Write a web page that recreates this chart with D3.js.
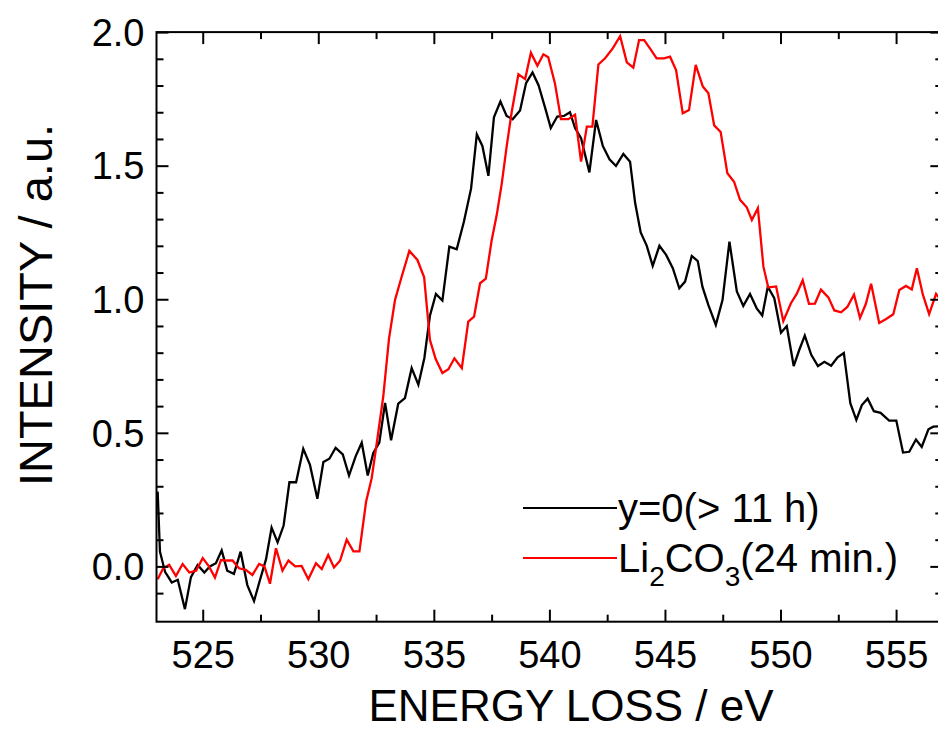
<!DOCTYPE html>
<html>
<head>
<meta charset="utf-8">
<script src="https://cdn.jsdelivr.net/npm/d3@7"></script>
<style>
  html, body { margin: 0; padding: 0; background: #fff; }
  svg { display: block; }
  text { font-family: "Liberation Sans", Arial, Helvetica, sans-serif; fill: #000; }
</style>
</head>
<body>
<svg id="chart" width="938" height="730"></svg>
<script>
// ---------------- data ----------------
const blackEnergy = [523.05,523.15,523.37,523.66,523.92,524.23,524.49,524.78,525.07,525.31,525.57,525.82,526.06,526.35,526.64,526.93,527.22,527.48,527.74,527.98,528.24,528.5,528.75,529.04,529.35,529.64,529.96,530.22,530.48,530.75,531.06,531.33,531.62,531.88,532.14,532.38,532.64,532.89,533.15,533.46,533.75,534.04,534.33,534.59,534.83,535.09,535.37,535.67,535.99,536.3,536.61,536.86,537.1,537.36,537.6,537.88,538.15,538.41,538.73,538.99,539.27,539.53,539.81,540.06,540.34,540.63,540.89,541.11,541.37,541.73,542.02,542.31,542.6,542.88,543.2,543.49,543.71,543.95,544.21,544.47,544.76,545.05,545.34,545.62,545.87,546.16,546.42,546.62,546.88,547.2,547.49,547.79,548.11,548.39,548.68,548.97,549.21,549.45,549.73,550.02,550.27,550.57,550.81,551.05,551.33,551.62,551.9,552.19,552.47,552.74,553.02,553.28,553.52,553.77,554.04,554.33,554.7,555.01,555.3,555.57,555.86,556.11,556.4,556.61,556.9];
const blackIntensity = [0.28,0.055,-0.02,-0.06,-0.05,-0.16,-0.04,0.005,-0.023,0.0,0.012,0.06,-0.016,-0.028,0.055,-0.07,-0.13,-0.05,0.027,0.145,0.09,0.153,0.315,0.315,0.44,0.38,0.253,0.391,0.403,0.444,0.419,0.34,0.413,0.463,0.34,0.425,0.463,0.612,0.472,0.609,0.63,0.742,0.68,0.78,0.938,1.02,0.995,1.197,1.187,1.29,1.414,1.617,1.574,1.462,1.681,1.74,1.686,1.674,1.707,1.809,1.849,1.801,1.718,1.641,1.684,1.686,1.7,1.641,1.603,1.475,1.671,1.574,1.524,1.499,1.544,1.515,1.36,1.25,1.201,1.125,1.2,1.166,1.116,1.041,1.066,1.162,1.143,1.047,0.978,0.904,0.997,1.216,1.029,0.975,1.02,0.966,0.939,1.047,1.004,0.875,0.9,0.75,0.81,0.864,0.792,0.75,0.766,0.751,0.783,0.799,0.611,0.548,0.604,0.628,0.581,0.575,0.546,0.546,0.426,0.429,0.475,0.447,0.513,0.523,0.525];

const redEnergy = [523.05,523.29,523.55,523.84,524.13,524.42,524.71,525.0,525.27,525.53,525.79,526.03,526.29,526.57,526.86,527.15,527.44,527.67,527.91,528.17,528.45,528.71,529.0,529.28,529.57,529.9,530.15,530.43,530.68,530.94,531.23,531.52,531.78,532.07,532.31,532.55,532.81,533.06,533.32,533.61,533.94,534.29,534.58,534.83,535.08,535.37,535.63,535.89,536.21,536.49,536.74,537.0,537.25,537.5,537.72,537.94,538.15,538.37,538.66,538.95,539.2,539.48,539.74,539.95,540.24,540.5,540.82,541.11,541.37,541.62,541.86,542.12,542.41,542.74,543.06,543.35,543.63,543.88,544.1,544.35,544.64,544.96,545.22,545.48,545.77,546.04,546.33,546.64,546.88,547.13,547.41,547.7,547.99,548.25,548.54,548.76,549.02,549.26,549.47,549.81,550.12,550.45,550.7,550.96,551.23,551.49,551.75,552.07,552.33,552.62,552.89,553.18,553.44,553.69,553.92,554.27,554.57,554.88,555.14,555.43,555.68,555.9,556.16,556.43,556.73,557.0];
const redIntensity = [-0.048,-0.007,0.006,-0.036,0.009,-0.023,-0.016,0.031,0.0,-0.042,0.024,0.022,0.022,-0.007,-0.013,-0.032,0.009,0.0,-0.065,0.068,-0.016,0.022,0.0,0.002,-0.048,0.012,-0.01,0.043,-0.004,0.021,0.1,0.056,0.056,0.243,0.33,0.473,0.635,0.853,0.997,1.085,1.181,1.147,1.082,0.848,0.776,0.724,0.738,0.779,0.742,0.916,0.935,1.06,1.077,1.22,1.315,1.434,1.571,1.702,1.842,1.824,1.923,1.874,1.917,1.906,1.808,1.674,1.674,1.691,1.515,1.646,1.646,1.879,1.902,1.939,1.985,1.887,1.867,1.97,1.97,1.939,1.902,1.902,1.908,1.858,1.696,1.708,1.877,1.796,1.771,1.651,1.626,1.472,1.44,1.372,1.344,1.297,1.341,1.122,1.044,1.048,0.918,0.985,1.02,1.071,0.983,0.984,1.036,1.007,0.958,0.951,0.971,1.017,0.93,0.982,1.058,0.911,0.926,0.944,1.035,1.05,1.037,1.116,1.017,0.944,1.02,0.99];

const xMajorTicks = [525, 530, 535, 540, 545, 550, 555];
const xMinorTicks = [527.5, 532.5, 537.5, 542.5, 547.5, 552.5];
const yMajorTicks = [0.0, 0.5, 1.0, 1.5, 2.0];
const yMinorTicks = [-0.1, 0.1, 0.2, 0.3, 0.4, 0.6, 0.7, 0.8, 0.9, 1.1, 1.2, 1.3, 1.4, 1.6, 1.7, 1.8, 1.9];

const seriesNames = ["y=0(> 11 h)", "Li2CO3(24 min.)"];
const seriesColors = ["#000000", "#ff0000"];
const xDomain = [523, 557];
const yDomain = [-0.207, 2.0];
const xTitle = "ENERGY LOSS / eV";
const yTitle = "INTENSITY / a.u.";

// ---------------- layout ----------------
const L = 156.5, R = 942.3, T = 32.1, B = 621.7;
const svg = d3.select("#chart");

const x = d3.scaleLinear().domain(xDomain).range([L, R]);
const y = d3.scaleLinear().domain(yDomain).range([B, T]);

svg.append("defs").append("clipPath").attr("id", "plotclip")
  .append("rect").attr("x", L).attr("y", T).attr("width", R - L).attr("height", B - T);

// data lines
const series = [
  { e: blackEnergy, v: blackIntensity, color: seriesColors[0] },
  { e: redEnergy, v: redIntensity, color: seriesColors[1] }
];
const line = d3.line().x(d => x(d[0])).y(d => y(d[1]));
const gData = svg.append("g").attr("clip-path", "url(#plotclip)");
series.forEach(s => {
  gData.append("path")
    .datum(s.e.map((e, i) => [e, s.v[i]]))
    .attr("fill", "none")
    .attr("stroke", s.color)
    .attr("stroke-width", 2.3)
    .attr("stroke-linejoin", "miter")
    .attr("d", line);
});

// axes
function styleAxis(g) {
  g.select(".domain").remove();
  g.selectAll(".tick line").attr("stroke", "#000").attr("stroke-width", 2);
  g.selectAll(".tick text").attr("font-family", "Liberation Sans, Arial, sans-serif").attr("fill", "#000");
}

// bottom major
const gB = svg.append("g").attr("transform", `translate(0,${B})`)
  .call(d3.axisBottom(x).tickValues(xMajorTicks).tickFormat(d3.format("d"))
    .tickSizeInner(-12).tickSizeOuter(0).tickPadding(19));
styleAxis(gB);
gB.selectAll(".tick text").attr("font-size", 38).attr("dy", "0.71em");
svg.append("g").attr("transform", `translate(0,${B})`)
  .call(d3.axisBottom(x).tickValues(xMinorTicks).tickFormat("").tickSizeInner(-7).tickSizeOuter(0))
  .call(styleAxis);
// top
svg.append("g").attr("transform", `translate(0,${T})`)
  .call(d3.axisTop(x).tickValues(xMajorTicks).tickFormat("").tickSizeInner(-12).tickSizeOuter(0))
  .call(styleAxis);
svg.append("g").attr("transform", `translate(0,${T})`)
  .call(d3.axisTop(x).tickValues(xMinorTicks).tickFormat("").tickSizeInner(-7).tickSizeOuter(0))
  .call(styleAxis);
// left
const gL = svg.append("g").attr("transform", `translate(${L},0)`)
  .call(d3.axisLeft(y).tickValues(yMajorTicks).tickFormat(d3.format(".1f"))
    .tickSizeInner(-12).tickSizeOuter(0).tickPadding(12));
styleAxis(gL);
gL.selectAll(".tick text").attr("font-size", 38).attr("dy", "0.35em");
svg.append("g").attr("transform", `translate(${L},0)`)
  .call(d3.axisLeft(y).tickValues(yMinorTicks).tickFormat("").tickSizeInner(-7).tickSizeOuter(0))
  .call(styleAxis);
// right
svg.append("g").attr("transform", `translate(${R},0)`)
  .call(d3.axisRight(y).tickValues(yMajorTicks).tickFormat("").tickSizeInner(-12).tickSizeOuter(0))
  .call(styleAxis);
svg.append("g").attr("transform", `translate(${R},0)`)
  .call(d3.axisRight(y).tickValues(yMinorTicks).tickFormat("").tickSizeInner(-7).tickSizeOuter(0))
  .call(styleAxis);

// frame
svg.append("rect").attr("x", L).attr("y", T).attr("width", R - L).attr("height", B - T)
  .attr("fill", "none").attr("stroke", "#000").attr("stroke-width", 2);

// titles
svg.append("text").attr("x", 571).attr("y", 721).attr("text-anchor", "middle")
  .attr("font-size", 44).text(xTitle);
svg.append("text").attr("transform", "translate(52,305) rotate(-90)").attr("text-anchor", "middle")
  .attr("font-size", 47).text(yTitle);

// legend
const legX0 = 523, legX1 = 617;
const legY = [508, 558];
seriesColors.forEach((c, i) => {
  svg.append("line").attr("x1", legX0).attr("x2", legX1).attr("y1", legY[i]).attr("y2", legY[i])
    .attr("stroke", c).attr("stroke-width", 2);
});
svg.append("text").attr("x", 618).attr("y", 522).attr("font-size", 40).text(seriesNames[0]);
const t2 = svg.append("text").attr("x", 618).attr("y", 572).attr("font-size", 40);
t2.append("tspan").text("Li");
t2.append("tspan").attr("font-size", 28).attr("dy", 14).text("2");
t2.append("tspan").attr("dy", -14).text("CO");
t2.append("tspan").attr("font-size", 28).attr("dy", 14).text("3");
t2.append("tspan").attr("dy", -14).text("(24 min.)");
</script>
</body>
</html>
